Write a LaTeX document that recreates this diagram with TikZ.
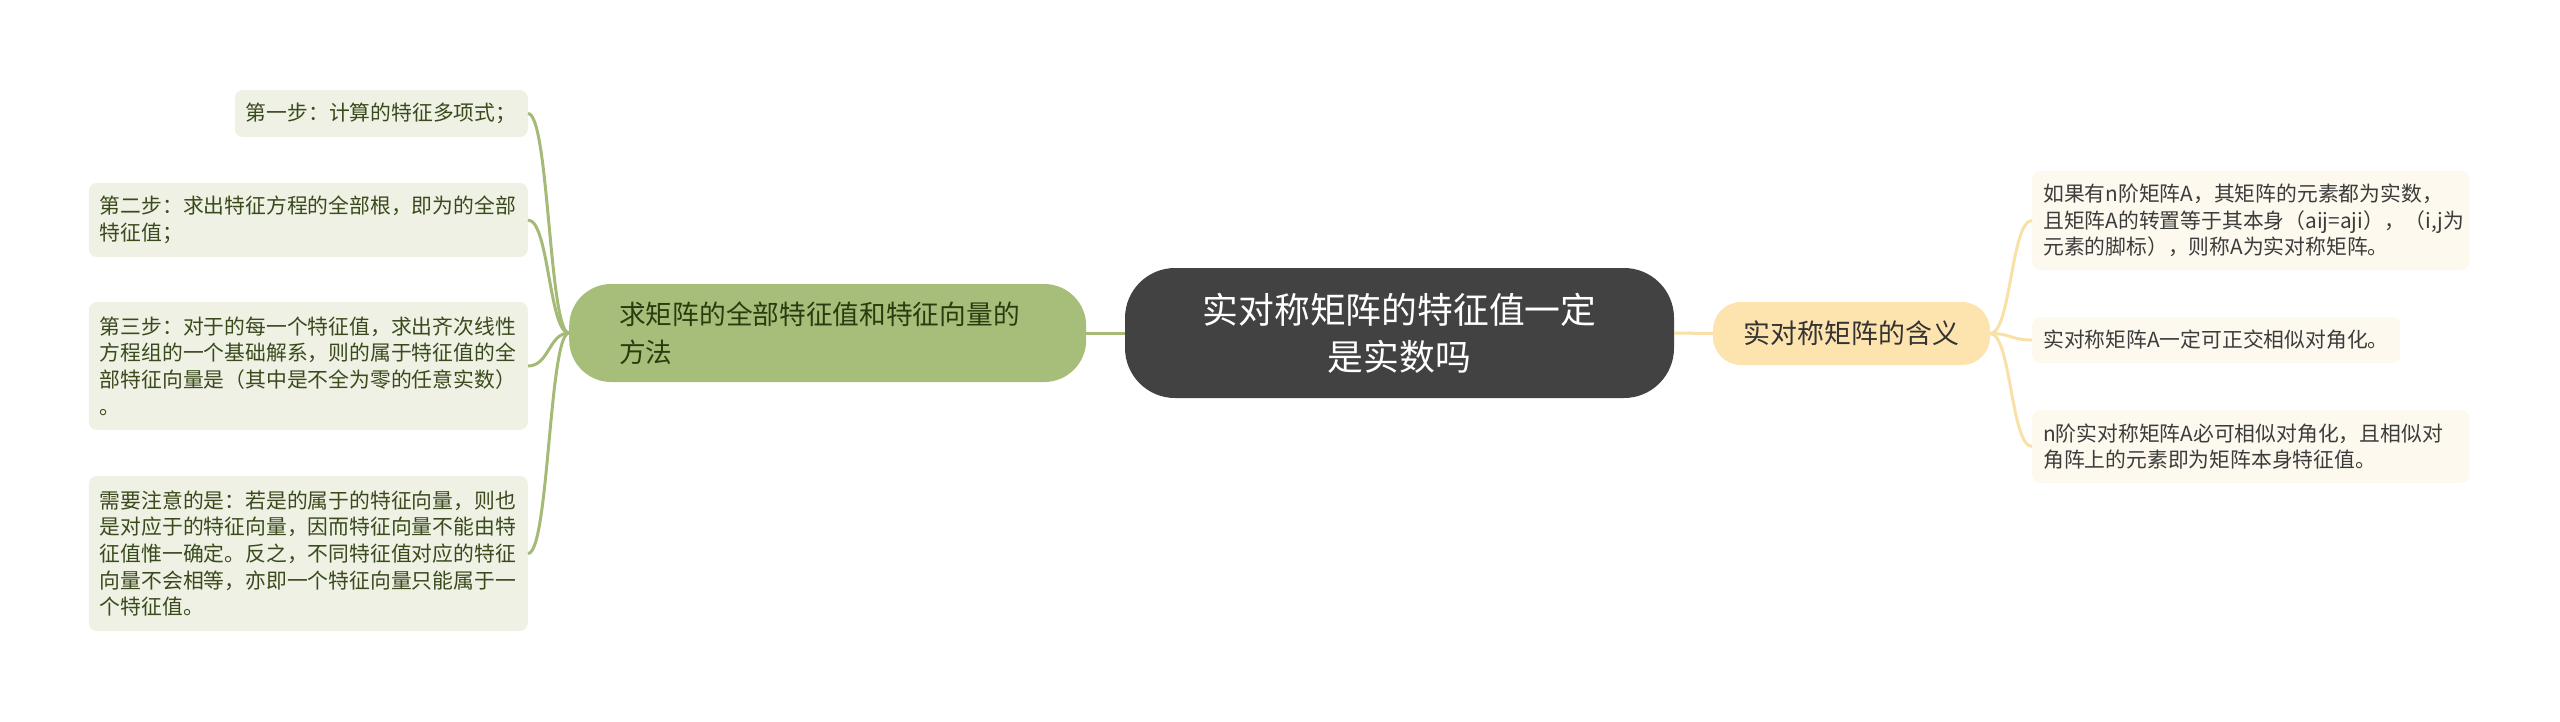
\documentclass[tikz,border=0pt]{standalone}
\usepackage{fontspec}
\setmainfont{Noto Sans CJK SC}
\definecolor{cdark}{HTML}{424242}
\definecolor{gfill}{HTML}{A6BE79}
\definecolor{gline}{HTML}{A4BA76}
\definecolor{gtext}{HTML}{2C3A10}
\definecolor{leafg}{HTML}{EEF1E4}
\definecolor{leafgt}{HTML}{3A4A1C}
\definecolor{yfill}{HTML}{FDE3AE}
\definecolor{yline}{HTML}{F9E0A6}
\definecolor{ytext}{HTML}{333333}
\definecolor{leafy}{HTML}{FEF9EE}
\definecolor{leafyt}{HTML}{3C3C3C}
\begin{document}
\begin{tikzpicture}[x=1pt,y=-1pt,
  cbox/.style={fill=cdark, rounded corners=50pt, text=white, align=center, inner sep=0pt,
    font=\fontsize{35.8}{47}\selectfont},
  gbox/.style={fill=gfill, rounded corners=42pt, text=gtext, align=left, inner ysep=0pt,
    font=\fontsize{26.7}{38}\selectfont},
  ybox/.style={fill=yfill, rounded corners=28pt, text=ytext, align=center, inner sep=0pt,
    font=\fontsize{26.9}{34}\selectfont},
  lleaf/.style={fill=leafg, rounded corners=8pt, inner xsep=11pt, inner ysep=0pt, align=left,
    text=leafgt, font=\fontsize{20.8}{26.7}\selectfont, anchor=east},
  rleaf/.style={fill=leafy, rounded corners=8pt, inner xsep=11pt, inner ysep=0pt, align=left,
    text=leafyt, font=\fontsize{20.8}{26.7}\selectfont, anchor=west},
  gconn/.style={draw=gline, line width=3pt},
  yconn/.style={draw=yline, line width=3pt}]
\useasboundingbox (0,0) rectangle (2560,721);

% central
\node[cbox, minimum width=549pt, minimum height=130pt] (c) at (1399.5,333) {实对称矩阵的特征值一定\\是实数吗};

% main branches
\node[gbox, anchor=west, minimum width=517pt, minimum height=98pt, text width=417pt, inner xsep=50pt] (g) at (569,333) {求矩阵的全部特征值和特征向量的\\方法};
\node[ybox, minimum width=277pt, minimum height=63pt] (y) at (1851.5,333.5) {实对称矩阵的含义};

% left leaves
\node[lleaf, minimum width=293pt, minimum height=47pt, text width=271pt] (l1) at (528,113.5) {第一步：计算的特征多项式；};
\node[lleaf, minimum width=439pt, minimum height=74pt, text width=417pt] (l2) at (528,220) {第二步：求出特征方程的全部根，即为的全部\\特征值；};
\node[lleaf, minimum width=439pt, minimum height=128pt, text width=417pt] (l3) at (528,366) {第三步：对于的每一个特征值，求出齐次线性\\方程组的一个基础解系，则的属于特征值的全\\部特征向量是（其中是不全为零的任意实数）\\。};
\node[lleaf, minimum width=439pt, minimum height=155pt, text width=417pt] (l4) at (528,553.5) {需要注意的是：若是的属于的特征向量，则也\\是对应于的特征向量，因而特征向量不能由特\\征值惟一确定。反之，不同特征值对应的特征\\向量不会相等，亦即一个特征向量只能属于一\\个特征值。};

% right leaves
\node[rleaf, minimum width=437pt, minimum height=99pt, text width=415pt] (r1) at (2032,220.5) {如果有n阶矩阵A，其矩阵的元素都为实数，\\且矩阵A的转置等于其本身（aij=aji），（i,j为\\元素的脚标），则称A为实对称矩阵。};
\node[rleaf, minimum width=368pt, minimum height=46pt, text width=346pt] (r2) at (2032,340) {实对称矩阵A一定可正交相似对角化。};
\node[rleaf, minimum width=437pt, minimum height=73pt, text width=415pt] (r3) at (2032,446.5) {n阶实对称矩阵A必可相似对角化，且相似对\\角阵上的元素即为矩阵本身特征值。};

% connectors
\draw[gconn] (g.east) -- (c.west);
\draw[yconn] (c.east) -- (y.west);
\foreach \n/\yy in {l1/113.5, l2/220, l3/366, l4/553.5}
  \draw[gconn] (g.west) .. controls (549,333) and (549,\yy) .. (\n.east);
\foreach \n/\yy in {r1/220.5, r2/340, r3/446.5}
  \draw[yconn] (y.east) .. controls (2011,333.5) and (2011,\yy) .. (\n.west);
\end{tikzpicture}
\end{document}
